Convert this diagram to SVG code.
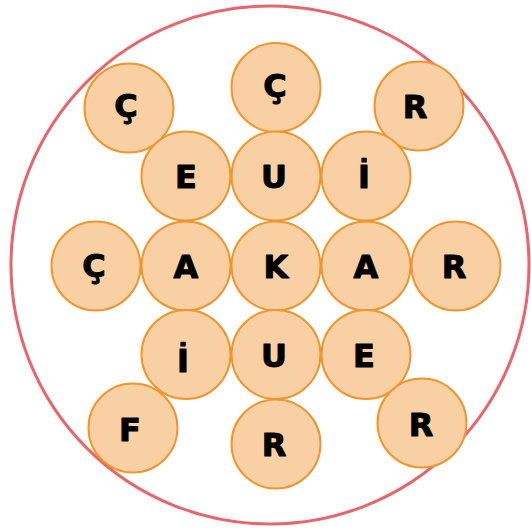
<svg xmlns="http://www.w3.org/2000/svg" width="531" height="532" viewBox="0 0 531 532">
<style>
.b{fill:#F9D0A4;stroke:#F0962E;stroke-width:2}
.t{font-family:"DejaVu Sans","Liberation Sans",sans-serif;font-weight:bold;font-size:32px;fill:#000;stroke:#000;stroke-width:1;stroke-linejoin:round;text-anchor:middle}
</style>
<rect width="531" height="532" fill="#fff"/>
<circle id="frame" cx="270" cy="265" r="259" fill="none" stroke="#E8656B" stroke-width="3"/>
<g id="n1"><circle class="b" cx="129" cy="108" r="44.5"/><text class="t" x="126" y="117">Ç</text></g>
<g id="n2"><circle class="b" cx="276" cy="87.5" r="44.5"/><text class="t" x="275" y="97">Ç</text></g>
<g id="n3"><circle class="b" cx="419" cy="106" r="44.5"/><text class="t" x="415" y="118">R</text></g>
<g id="n4"><circle class="b" cx="186" cy="176" r="44.5"/><text class="t" x="186" y="188">E</text></g>
<g id="n5"><circle class="b" cx="276" cy="176" r="44.5"/><text class="t" x="274" y="188">U</text></g>
<g id="n6"><circle class="b" cx="366" cy="176" r="44.5"/><text class="t" x="364" y="188">İ</text></g>
<g id="n7"><circle class="b" cx="96" cy="266" r="44.5"/><text class="t" x="94" y="277">Ç</text></g>
<g id="n8"><circle class="b" cx="186" cy="266" r="44.5"/><text class="t" x="186" y="278">A</text></g>
<g id="n9"><circle class="b" cx="276" cy="266" r="44.5"/><text class="t" x="276" y="278">K</text></g>
<g id="n10"><circle class="b" cx="366" cy="266" r="44.5"/><text class="t" x="366" y="278">A</text></g>
<g id="n11"><circle class="b" cx="456" cy="266" r="44.5"/><text class="t" x="454" y="278">R</text></g>
<g id="n12"><circle class="b" cx="186" cy="354.5" r="44.5"/><text class="t" x="183" y="372">İ</text></g>
<g id="n13"><circle class="b" cx="276" cy="354.5" r="44.5"/><text class="t" x="274" y="367">U</text></g>
<g id="n14"><circle class="b" cx="366" cy="354.5" r="44.5"/><text class="t" x="364" y="367">E</text></g>
<g id="n15"><circle class="b" cx="133" cy="428" r="44.5"/><text class="t" x="130" y="441">F</text></g>
<g id="n16"><circle class="b" cx="276" cy="444" r="44.5"/><text class="t" x="274" y="456">R</text></g>
<g id="n17"><circle class="b" cx="422" cy="423" r="44.5"/><text class="t" x="421" y="436">R</text></g>
<g id="connectors"></g>
</svg>
